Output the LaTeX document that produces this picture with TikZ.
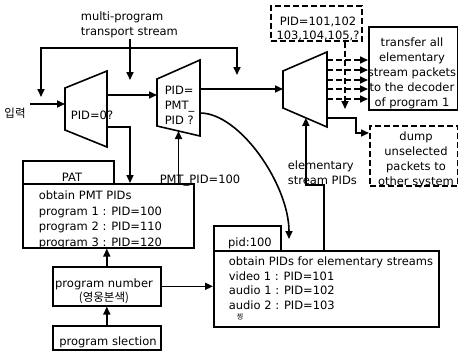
\documentclass[tikz,border=0pt]{standalone}
\usepackage{fontspec}
\setmainfont{DejaVu Sans}
\newfontfamily\kor{Noto Sans CJK KR}
\usetikzlibrary{arrows.meta,calc}

\begin{document}
\begin{tikzpicture}[x=1pt,y=-1pt,line width=1.6pt,
  font=\fontsize{11.5}{15.5}\selectfont,
  box/.style={draw,anchor=north west,inner sep=0pt},
  dbox/.style={box,dash pattern=on 6pt off 3pt},
  txt/.style={align=left,anchor=north west,inner sep=0pt},
  ctxt/.style={align=center,inner sep=0pt},
  arr/.style={-{Triangle[length=8pt,width=7pt]}},
  barr/.style={{Triangle[length=8pt,width=7pt]}-{Triangle[length=8pt,width=7pt]}},
  darr/.style={arr,dash pattern=on 6pt off 3pt}]
\useasboundingbox (0,0) rectangle (458,351);

% the three PID selectors
\draw (65,88) coordinate (m1nw) -- (107,71) coordinate (m1ne)
  -- (107,147) coordinate (m1se) -- (65,130) coordinate (m1sw) -- cycle;
\draw (157,79) coordinate (m2nw) -- (200,60) coordinate (m2ne)
  -- (200,136) coordinate (m2se) -- (157,126) coordinate (m2sw) -- cycle;
\draw (283,71) coordinate (m3nw) -- (327,52) coordinate (m3ne)
  -- (327,127) coordinate (m3se) -- (283,108) coordinate (m3sw) -- cycle;
\node (m1lbl) at (92,115) {PID=0?};
\node[txt,anchor=west,font=\fontsize{11.5}{15}\selectfont] (m2lbl) at (164,105) {PID=\\PMT\_\\PID ?};

% tables
\node[box,minimum width=91pt,minimum height=23pt] (pat) at (22,160) {};
\node (pattxt) at (72,177) {PAT};
\node[box,minimum width=171pt,minimum height=64pt] (pmt) at (22,183) {};
\node[txt] (pmttxt) at (38,190) {obtain PMT PIDs\\program 1 : PID=100\\program 2 : PID=110\\program 3 : PID=120};
\node[box,minimum width=108pt,minimum height=39pt] (prognum) at (52,266) {};
\node[ctxt,font=\fontsize{11.5}{14}\selectfont] (prognumtxt) at (104,291) {program number\\{\kor (영웅본색)}};
\node[box,minimum width=108pt,minimum height=24pt] (progsel) at (52,325) {};
\node (progseltxt) at (108,342) {program slection};
\node[box,minimum width=67pt,minimum height=25pt] (pidtab) at (213,225) {};
\node (pidtabtxt) at (250,243) {pid:100};
\node[box,minimum width=225pt,minimum height=76pt] (pid) at (213,250) {};
\node[txt,font=\fontsize{11.5}{14.7}\selectfont] (pidtxt) at (228,256) {obtain PIDs for elementary streams\\video 1 : PID=101\\audio 1 : PID=102\\audio 2 : PID=103};
\node[font=\kor\fontsize{7}{7}\selectfont] (mark) at (240,317) {찡};

% outputs
\node[dbox,minimum width=91pt,minimum height=35pt] (pidsel) at (270,5) {};
\node[ctxt,font=\fontsize{11.5}{14}\selectfont] (pidseltxt) at (318,29) {PID=101,102\\103,104,105,?};
\node[box,minimum width=89pt,minimum height=83pt] (xfer) at (368,26) {};
\node[ctxt,font=\fontsize{11.5}{15}\selectfont] (xfertxt) at (412,73) {transfer all\\elementary\\stream packets\\to the decoder\\of program 1};
\node[dbox,minimum width=88pt,minimum height=60pt] (dump) at (369,125) {};
\node[ctxt,font=\fontsize{11.5}{15}\selectfont] (dumptxt) at (416,160) {dump\\unselected\\packets to\\other system};
\node[txt,anchor=west,font=\fontsize{11.5}{15}\selectfont] (estxt) at (287,173) {elementary\\stream PIDs};

% inputs
\node (in) at (15,113) {\kor 입력};
\node[txt,anchor=west] (mpts) at (80,25) {multi-program\\transport stream};
\coordinate (mptsEnd) at (130,80);
\coordinate (fbL) at (41,97);
\coordinate (fbR) at (237,75);

% connectors
\draw[arr] (in.east |- 0,104) -- (m1nw |- 0,104);
\draw[arr] (mpts.south -| mptsEnd) -- (mptsEnd);
\draw[barr] (fbL) |- (fbR |- 0,48) -- (fbR);
\draw[arr] (m1ne |- 0,95) -- (m2nw |- 0,95);
\draw[arr] (m1ne |- 0,127) -| (130,0 |- pmt.north);
\draw[arr] (m2ne |- 0,89) -- (m3nw |- 0,89);
\coordinate (m2in) at ($(m2sw)!.5!(m2se)$);
\draw[arr] (m2in |- pmt.north) -- (m2in);
\node (pmtlbl) at (200,181) {PMT\_PID=100};
\coordinate (pidIn) at (289,239);
\draw[arr] (m2ne |- 0,113) .. controls (240,113) and (289,185) .. (pidIn);
\draw[arr] (prognum.north) -- (prognum.north |- pmt.south);
\draw[arr] (progsel.north) -- (prognum.south);
\draw[arr] (prognum.east) -- (prognum.east -| pid.west);
\coordinate (m3in) at ($(m3sw)!.52!(m3se)$);
\draw[arr] (324,0 |- pid.north) |- (m3in |- 0,185) -- (m3in);
\foreach \y in {60,70,80,89,99}
  \draw[darr] (m3ne |- 0,\y) -- (xfer.west |- 0,\y);
\coordinate (pidsEnd) at (345,109);
\draw[darr] (pidsel.south -| pidsEnd) -- (pidsEnd);
\draw[arr] (m3ne |- 0,118) -- ++(29,0) |- (dump.west |- 0,133);
\end{tikzpicture}
\end{document}
